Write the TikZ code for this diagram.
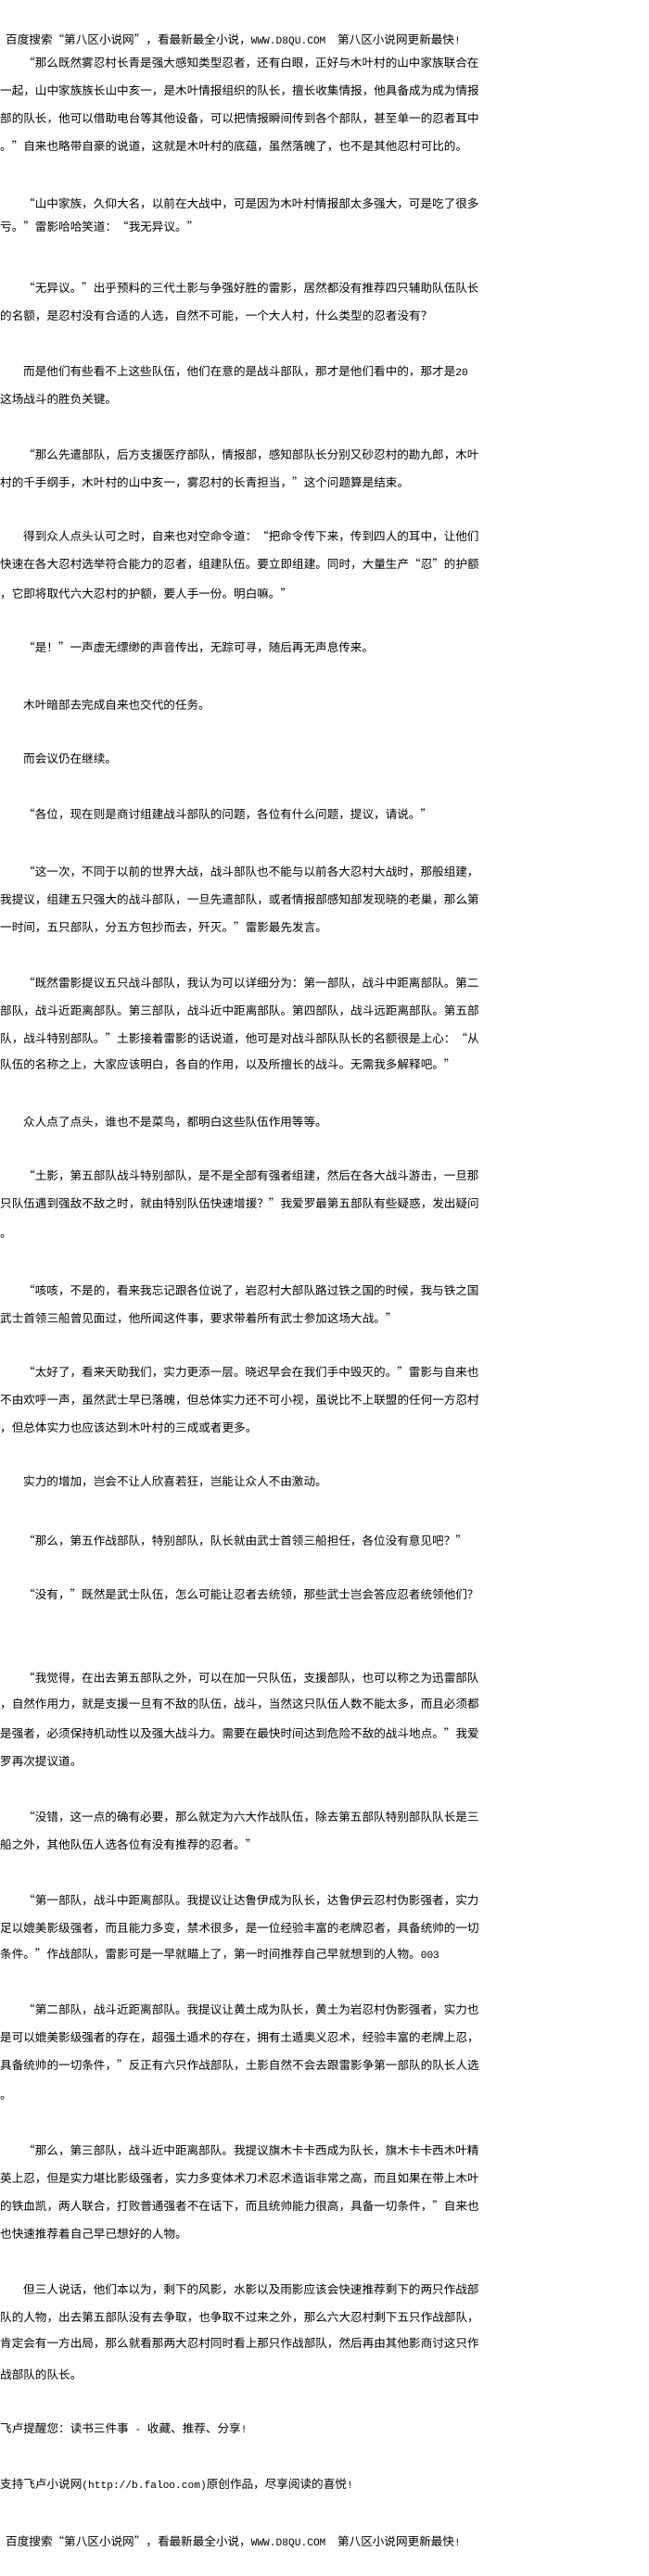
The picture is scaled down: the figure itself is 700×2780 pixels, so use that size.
\documentclass[tikz,border=0pt]{standalone}
\usepackage{fontspec}
\newfontfamily\cjk{Noto Sans CJK SC}
\newfontfamily\latmono{Liberation Mono}
\newcommand\lm[1]{{\fontsize{11.2}{12}\selectfont\latmono #1}}
\begin{document}
\begin{tikzpicture}[x=1pt,y=-1pt,
  txt/.style={anchor=base west, inner sep=0pt, text=black, font={\fontsize{12.6}{14}\selectfont\cjk}}]
\fill[white] (0,0) rectangle (700,2780);
\useasboundingbox (0,0) rectangle (700,2780);
\node[txt] (l1) at (6,48) {百度搜索“第八区小说网”，看最新最全小说，\lm{WWW.D8QU.COM}　第八区小说网更新最快\lm{!}};
\node[txt] (l2) at (25,73) {“那么既然雾忍村长青是强大感知类型忍者，还有白眼，正好与木叶村的山中家族联合在};
\node[txt] (l3) at (0,103) {一起，山中家族族长山中亥一，是木叶情报组织的队长，擅长收集情报，他具备成为成为情报};
\node[txt] (l4) at (0,133) {部的队长，他可以借助电台等其他设备，可以把情报瞬间传到各个部队，甚至单一的忍者耳中};
\node[txt] (l5) at (0,163) {。”自来也略带自豪的说道，这就是木叶村的底蕴，虽然落魄了，也不是其他忍村可比的。};
\node[txt] (l6) at (25,225) {“山中家族，久仰大名，以前在大战中，可是因为木叶村情报部太多强大，可是吃了很多};
\node[txt] (l7) at (0,250) {亏。”雷影哈哈笑道：“我无异议。”};
\node[txt] (l8) at (25,315) {“无异议。”出乎预料的三代土影与争强好胜的雷影，居然都没有推荐四只辅助队伍队长};
\node[txt] (l9) at (0,345) {的名额，是忍村没有合适的人选，自然不可能，一个大人村，什么类型的忍者没有？};
\node[txt] (l10) at (25,405) {而是他们有些看不上这些队伍，他们在意的是战斗部队，那才是他们看中的，那才是\lm{20}};
\node[txt] (l11) at (0,435) {这场战斗的胜负关键。};
\node[txt] (l12) at (25,495) {“那么先遣部队，后方支援医疗部队，情报部，感知部队长分别又砂忍村的勘九郎，木叶};
\node[txt] (l13) at (0,525) {村的千手纲手，木叶村的山中亥一，雾忍村的长青担当，”这个问题算是结束。};
\node[txt] (l14) at (25,583) {得到众人点头认可之时，自来也对空命令道：“把命令传下来，传到四人的耳中，让他们};
\node[txt] (l15) at (0,613) {快速在各大忍村选举符合能力的忍者，组建队伍。要立即组建。同时，大量生产“忍”的护额};
\node[txt] (l16) at (0,645) {，它即将取代六大忍村的护额，要人手一份。明白嘛。”};
\node[txt] (l17) at (25,703) {“是！”一声虚无缥缈的声音传出，无踪可寻，随后再无声息传来。};
\node[txt] (l18) at (25,765) {木叶暗部去完成自来也交代的任务。};
\node[txt] (l19) at (25,823) {而会议仍在继续。};
\node[txt] (l20) at (25,883) {“各位，现在则是商讨组建战斗部队的问题，各位有什么问题，提议，请说。”};
\node[txt] (l21) at (25,945) {“这一次，不同于以前的世界大战，战斗部队也不能与以前各大忍村大战时，那般组建，};
\node[txt] (l22) at (0,975) {我提议，组建五只强大的战斗部队，一旦先遣部队，或者情报部感知部发现晓的老巢，那么第};
\node[txt] (l23) at (0,1005) {一时间，五只部队，分五方包抄而去，歼灭。”雷影最先发言。};
\node[txt] (l24) at (25,1065) {“既然雷影提议五只战斗部队，我认为可以详细分为：第一部队，战斗中距离部队。第二};
\node[txt] (l25) at (0,1095) {部队，战斗近距离部队。第三部队，战斗近中距离部队。第四部队，战斗远距离部队。第五部};
\node[txt] (l26) at (0,1125) {队，战斗特别部队。”土影接着雷影的话说道，他可是对战斗部队队长的名额很是上心：“从};
\node[txt] (l27) at (0,1153) {队伍的名称之上，大家应该明白，各自的作用，以及所擅长的战斗。无需我多解释吧。”};
\node[txt] (l28) at (25,1215) {众人点了点头，谁也不是菜鸟，都明白这些队伍作用等等。};
\node[txt] (l29) at (25,1273) {“土影，第五部队战斗特别部队，是不是全部有强者组建，然后在各大战斗游击，一旦那};
\node[txt] (l30) at (0,1303) {只队伍遇到强敌不敌之时，就由特别队伍快速增援？”我爱罗最第五部队有些疑惑，发出疑问};
\node[txt] (l31) at (0,1335) {。};
\node[txt] (l32) at (25,1397) {“咳咳，不是的，看来我忘记跟各位说了，岩忍村大部队路过铁之国的时候，我与铁之国};
\node[txt] (l33) at (0,1427) {武士首领三船曾见面过，他所闻这件事，要求带着所有武士参加这场大战。”};
\node[txt] (l34) at (25,1485) {“太好了，看来天助我们，实力更添一层。晓迟早会在我们手中毁灭的。”雷影与自来也};
\node[txt] (l35) at (0,1515) {不由欢呼一声，虽然武士早已落魄，但总体实力还不可小视，虽说比不上联盟的任何一方忍村};
\node[txt] (l36) at (0,1545) {，但总体实力也应该达到木叶村的三成或者更多。};
\node[txt] (l37) at (25,1603) {实力的增加，岂会不让人欣喜若狂，岂能让众人不由激动。};
\node[txt] (l38) at (25,1667) {“那么，第五作战部队，特别部队，队长就由武士首领三船担任，各位没有意见吧？”};
\node[txt] (l39) at (25,1725) {“没有，”既然是武士队伍，怎么可能让忍者去统领，那些武士岂会答应忍者统领他们？};
\node[txt] (l40) at (25,1815) {“我觉得，在出去第五部队之外，可以在加一只队伍，支援部队，也可以称之为迅雷部队};
\node[txt] (l41) at (0,1843) {，自然作用力，就是支援一旦有不敌的队伍，战斗，当然这只队伍人数不能太多，而且必须都};
\node[txt] (l42) at (0,1875) {是强者，必须保持机动性以及强大战斗力。需要在最快时间达到危险不敌的战斗地点。”我爱};
\node[txt] (l43) at (0,1905) {罗再次提议道。};
\node[txt] (l44) at (25,1965) {“没错，这一点的确有必要，那么就定为六大作战队伍，除去第五部队特别部队队长是三};
\node[txt] (l45) at (0,1995) {船之外，其他队伍人选各位有没有推荐的忍者。”};
\node[txt] (l46) at (25,2055) {“第一部队，战斗中距离部队。我提议让达鲁伊成为队长，达鲁伊云忍村伪影强者，实力};
\node[txt] (l47) at (0,2085) {足以媲美影级强者，而且能力多变，禁术很多，是一位经验丰富的老牌忍者，具备统帅的一切};
\node[txt] (l48) at (0,2113) {条件。”作战部队，雷影可是一早就瞄上了，第一时间推荐自己早就想到的人物。\lm{003}};
\node[txt] (l49) at (25,2173) {“第二部队，战斗近距离部队。我提议让黄土成为队长，黄土为岩忍村伪影强者，实力也};
\node[txt] (l50) at (0,2203) {是可以媲美影级强者的存在，超强土遁术的存在，拥有土遁奥义忍术，经验丰富的老牌上忍，};
\node[txt] (l51) at (0,2233) {具备统帅的一切条件，”反正有六只作战部队，土影自然不会去跟雷影争第一部队的队长人选};
\node[txt] (l52) at (0,2265) {。};
\node[txt] (l53) at (25,2325) {“那么，第三部队，战斗近中距离部队。我提议旗木卡卡西成为队长，旗木卡卡西木叶精};
\node[txt] (l54) at (0,2355) {英上忍，但是实力堪比影级强者，实力多变体术刀术忍术造诣非常之高，而且如果在带上木叶};
\node[txt] (l55) at (0,2385) {的铁血凯，两人联合，打败普通强者不在话下，而且统帅能力很高，具备一切条件，”自来也};
\node[txt] (l56) at (0,2415) {也快速推荐着自己早已想好的人物。};
\node[txt] (l57) at (25,2475) {但三人说话，他们本以为，剩下的风影，水影以及雨影应该会快速推荐剩下的两只作战部};
\node[txt] (l58) at (0,2505) {队的人物，出去第五部队没有去争取，也争取不过来之外，那么六大忍村剩下五只作战部队，};
\node[txt] (l59) at (0,2533) {肯定会有一方出局，那么就看那两大忍村同时看上那只作战部队，然后再由其他影商讨这只作};
\node[txt] (l60) at (0,2567) {战部队的队长。};
\node[txt] (l61) at (0,2625) {飞卢提醒您：读书三件事\lm{ - }收藏、推荐、分享\lm{!}};
\node[txt] (l62) at (0,2685) {支持飞卢小说网\lm{(http://b.faloo.com)}原创作品，尽享阅读的喜悦\lm{!}};
\node[txt] (l63) at (6,2747) {百度搜索“第八区小说网”，看最新最全小说，\lm{WWW.D8QU.COM}　第八区小说网更新最快\lm{!}};
\end{tikzpicture}
\end{document}
